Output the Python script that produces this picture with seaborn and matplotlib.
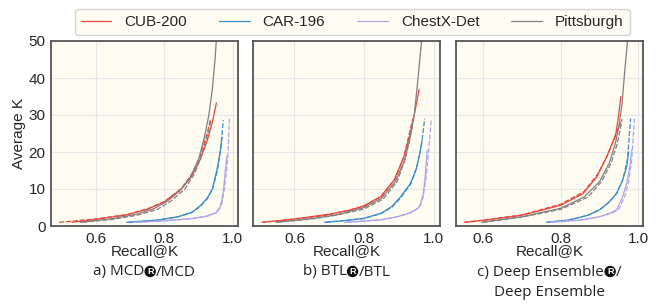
import pandas as pd
import seaborn as sns
import matplotlib.pyplot as plt
from matplotlib.lines import Line2D
from matplotlib.patches import Circle
from matplotlib.transforms import IdentityTransform

# (Recall@K, Average K) points; solid = R variant, dashed = base
mcd_cub_r = [(0.53, 1.0), (0.60, 1.8), (0.69, 3.0), (0.75, 4.5), (0.80, 6.5), (0.85, 10), (0.88, 13.5), (0.905, 18), (0.925, 23), (0.94, 28), (0.952, 33.3)]
mcd_cub = [(0.493, 1.0), (0.60, 1.9), (0.69, 3.1), (0.75, 4.6), (0.80, 6.6), (0.85, 10.2), (0.88, 14), (0.905, 19), (0.925, 25), (0.935, 29)]
mcd_car_r = [(0.69, 1.0), (0.78, 1.6), (0.84, 2.5), (0.88, 3.7), (0.905, 5.5), (0.925, 7.5), (0.94, 10), (0.953, 15), (0.963, 20), (0.968, 24)]
mcd_car = [(0.695, 1.0), (0.78, 1.6), (0.84, 2.5), (0.88, 3.6), (0.905, 5.3), (0.925, 7.3), (0.94, 9.8), (0.955, 15), (0.965, 21), (0.972, 28.6)]
mcd_chest_r = [(0.715, 1.0), (0.80, 1.4), (0.88, 2.0), (0.92, 2.6), (0.95, 3.5), (0.962, 5), (0.968, 7), (0.973, 10), (0.978, 15), (0.983, 19)]
mcd_chest = [(0.72, 1.0), (0.80, 1.4), (0.88, 2.0), (0.925, 2.6), (0.955, 3.7), (0.968, 6), (0.975, 10), (0.982, 15), (0.986, 20), (0.99, 29)]
mcd_pitts_r = [(0.555, 1.0), (0.65, 2.0), (0.72, 3.2), (0.77, 4.7), (0.81, 6.8), (0.845, 9.5), (0.875, 13), (0.9, 18), (0.917, 24), (0.93, 30), (0.94, 37), (0.948, 45), (0.953, 52)]
mcd_pitts = [(0.56, 1.0), (0.65, 1.8), (0.72, 2.9), (0.78, 4.5), (0.82, 6.8), (0.86, 10), (0.89, 14.5), (0.91, 19.5), (0.927, 25), (0.937, 28.8)]

btl_cub_r = [(0.51, 1.0), (0.6, 1.9), (0.7, 3.2), (0.76, 4.3), (0.8, 5.5), (0.847, 7.9), (0.886, 12.4), (0.914, 18.6), (0.93, 24), (0.944, 30), (0.958, 36.9)]
btl_cub = [(0.505, 1.0), (0.6, 1.8), (0.7, 3.0), (0.8, 5.3), (0.85, 8), (0.89, 12.8), (0.915, 19), (0.93, 25), (0.94, 29)]
btl_car_r = [(0.686, 1.0), (0.75, 1.5), (0.8, 2.1), (0.85, 3.5), (0.88, 5.3), (0.905, 7.9), (0.933, 11.5), (0.95, 15.5), (0.962, 20.5), (0.966, 23)]
btl_car = [(0.69, 1.0), (0.8, 2.0), (0.85, 3.4), (0.88, 5.1), (0.905, 7.6), (0.935, 11.5), (0.952, 16), (0.965, 22), (0.974, 29)]
btl_chest_r = [(0.744, 1.0), (0.8, 1.3), (0.85, 1.7), (0.895, 2.5), (0.93, 3.5), (0.955, 4.8), (0.962, 6), (0.97, 8.7), (0.976, 14), (0.981, 20.5)]
btl_chest = [(0.75, 1.0), (0.85, 1.7), (0.9, 2.6), (0.94, 3.8), (0.96, 5.2), (0.97, 8), (0.978, 13), (0.985, 20), (0.993, 29)]
btl_pitts_r = [(0.547, 1.0), (0.65, 2.0), (0.72, 3.0), (0.8, 5.0), (0.85, 7.5), (0.89, 12), (0.915, 17.5), (0.93, 23), (0.944, 30), (0.955, 40), (0.965, 50), (0.968, 55)]
btl_pitts = [(0.55, 1.0), (0.65, 1.9), (0.72, 2.9), (0.8, 4.6), (0.855, 7.3), (0.895, 12), (0.918, 18), (0.93, 23), (0.939, 27)]

de_cub_r = [(0.555, 1.0), (0.6, 1.5), (0.7, 2.9), (0.8, 5.6), (0.858, 8.8), (0.893, 13.3), (0.918, 18.6), (0.935, 23), (0.942, 25), (0.948, 29), (0.955, 35)]
de_cub = [(0.55, 1.0), (0.6, 1.6), (0.7, 3.0), (0.8, 5.9), (0.86, 9.3), (0.895, 14), (0.92, 19), (0.94, 24), (0.957, 28.8)]
de_car_r = [(0.763, 1.0), (0.82, 1.6), (0.87, 2.9), (0.901, 4.4), (0.925, 6.5), (0.944, 8.8), (0.958, 12), (0.97, 16), (0.975, 20)]
de_car = [(0.765, 1.0), (0.82, 1.6), (0.87, 2.9), (0.9, 4.4), (0.925, 6.5), (0.945, 9), (0.96, 12.5), (0.972, 18), (0.98, 29)]
de_chest_r = [(0.77, 1.0), (0.85, 1.6), (0.9, 2.5), (0.93, 3.6), (0.944, 4.4), (0.958, 7.5), (0.97, 11.5), (0.978, 16), (0.983, 20.5)]
de_chest = [(0.775, 1.0), (0.85, 1.6), (0.9, 2.5), (0.935, 3.6), (0.95, 4.6), (0.965, 8), (0.975, 12), (0.983, 18), (0.99, 29)]
de_pitts_r = [(0.596, 1.0), (0.7, 2.5), (0.8, 4.8), (0.86, 7.8), (0.9, 12), (0.925, 17), (0.94, 22), (0.95, 27), (0.958, 33), (0.965, 42), (0.972, 50), (0.975, 55)]
de_pitts = [(0.60, 1.0), (0.7, 2.4), (0.8, 4.5), (0.87, 7.8), (0.905, 12), (0.93, 17), (0.945, 22), (0.953, 26), (0.958, 28.8)]

datasets = ["CUB-200", "CAR-196", "ChestX-Det", "Pittsburgh"]
colors = ["#e8473d", "#3a8fc6", "#b0a3e8", "#808080"]
# caption pieces: text before the circled-R mark, text after it, optional second line
captions = [("a) MCD", "/MCD", None), ("b) BTL", "/BTL", None),
            ("c) Deep Ensemble", "/", "Deep Ensemble")]
xlims = [(0.469, 1.015), (0.481, 1.018), (0.530, 1.012)]

panels = [
    [mcd_cub_r, mcd_cub, mcd_car_r, mcd_car, mcd_chest_r, mcd_chest, mcd_pitts_r, mcd_pitts],
    [btl_cub_r, btl_cub, btl_car_r, btl_car, btl_chest_r, btl_chest, btl_pitts_r, btl_pitts],
    [de_cub_r, de_cub, de_car_r, de_car, de_chest_r, de_chest, de_pitts_r, de_pitts],
]


def to_frame(curves):
    rows = []
    for i, pts in enumerate(curves):
        for rec, k in pts:
            rows.append({"recall": rec, "k": k, "dataset": datasets[i // 2],
                         "variant": "R" if i % 2 == 0 else "base"})
    return pd.DataFrame(rows)


sns.set_style("whitegrid")
plt.rcParams["font.family"] = ["Liberation Sans", "DejaVu Sans"]
plt.rcParams["axes.facecolor"] = "#fefbf1"
plt.rcParams["grid.color"] = "#e6e6e6"
plt.rcParams["axes.edgecolor"] = "#555555"

fig = plt.figure(figsize=(6.62, 3.07), dpi=100)
renderer = fig.canvas.get_renderer()
px = IdentityTransform()
cap_font = dict(fontsize=11, family=["Open Sans", "DejaVu Sans"], color="#222222")


def text_width(s):
    t = fig.text(0, 0, s, **cap_font)
    w = t.get_window_extent(renderer).width
    t.remove()
    return w


def caption(cx, cy, before, after):
    gap = 12
    wb, wa = text_width(before), text_width(after)
    x0 = cx - (wb + gap + wa) / 2
    fig.text(x0, cy, before, transform=px, ha="left", va="center", **cap_font)
    fig.text(x0 + wb + gap, cy, after, transform=px, ha="left", va="center", **cap_font)
    mx = x0 + wb + gap / 2
    fig.add_artist(Circle((mx, cy + 0.5), 5, transform=px, color="#111111"))
    fig.text(mx, cy + 0.5, "R", transform=px, ha="center", va="center",
             fontsize=6.5, weight="bold", color="white")


lefts = [51, 253, 456]
for p in range(3):
    ax = fig.add_axes([lefts[p] / 662, 1 - 226 / 307, 187 / 662, 185 / 307])
    df = to_frame(panels[p])
    sns.lineplot(data=df, x="recall", y="k", hue="dataset", style="variant",
                 hue_order=datasets, palette=colors, style_order=["R", "base"],
                 dashes={"R": "", "base": (4, 1.5)}, sort=False, estimator=None,
                 linewidth=0.9, legend=False, ax=ax)
    ax.set_xlim(*xlims[p])
    ax.set_ylim(0, 50)
    ax.set_xticks([0.6, 0.8, 1.0])
    ax.set_xticklabels(["0.6", "0.8", "1.0"])
    ax.set_yticks([0, 10, 20, 30, 40, 50])
    ax.tick_params(axis="both", labelsize=11, length=3, width=0.8, color="#555555", pad=1)
    if p == 0:
        ax.set_ylabel("Average K", fontsize=11, labelpad=2)
    else:
        ax.set_ylabel("")
        ax.set_yticklabels([])
    ax.set_xlabel("Recall@K", fontsize=11, labelpad=-1)
    for s in ax.spines.values():
        s.set_linewidth(1.3)

    before, after, line2 = captions[p]
    cx = lefts[p] + 187 / 2
    caption(cx, 307 - 272, before, after)
    if line2:
        fig.text(cx, 307 - 293, line2, transform=px, ha="center", va="center", **cap_font)

handles = [Line2D([], [], color=c, lw=0.9) for c in colors]
fig.legend(handles, datasets, loc="upper center", bbox_to_anchor=(0.532, 0.995), ncol=4,
           fontsize=11, frameon=True, edgecolor="#cccccc", handlelength=2.0,
           handletextpad=0.85, columnspacing=2.1, borderpad=0.4, fancybox=True)

fig.savefig("out.png", dpi=100)
